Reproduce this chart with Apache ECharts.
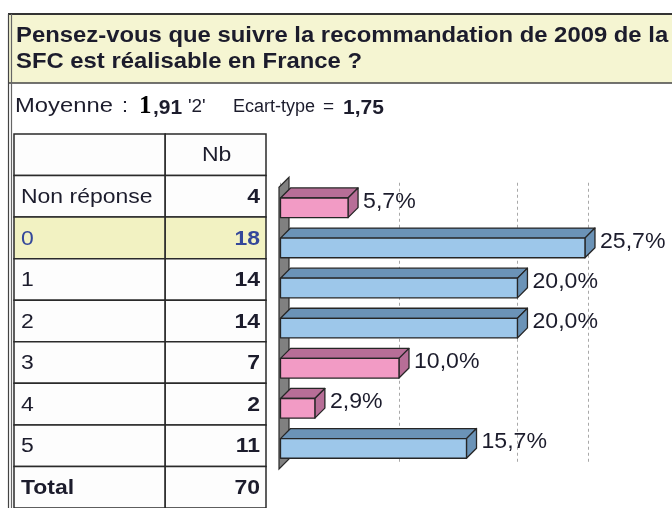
<!DOCTYPE html>
<html>
<head>
<meta charset="utf-8">
<title>Recommandation SFC 2009</title>
<script src="https://cdn.jsdelivr.net/npm/echarts@6/dist/echarts.min.js"></script>
<style>
  html, body { margin: 0; padding: 0; background: #ffffff; }
  #chart { width: 672px; height: 508px; }
</style>
</head>
<body>
<div id="chart"></div>
<script>
// données
const categories = ['Non réponse', '0', '1', '2', '3', '4', '5'];
const counts = [4, 18, 14, 14, 7, 2, 11];
const percents = [5.7, 25.7, 20.0, 20.0, 10.0, 2.9, 15.7];
const total = 70;
const titleLines = ['Pensez-vous que suivre la recommandation de 2009 de la', 'SFC est réalisable en France ?'];
const meanText = '1,91';
const medianText = "'2'";
const stdText = '1,75';
const countHeader = 'Nb';
const totalLabel = 'Total';

// lignes du tableau : en-tête, modalités, total
const tableRows = [['', countHeader]]
  .concat(categories.map((c, i) => [c, counts[i]]))
  .concat([[totalLabel, total]]);

const FONT = '"Liberation Sans", Arial, sans-serif';
const SX = 1.12; // la capture est un peu étirée en largeur
const INK = '#1c1c2c';
const BLUE_TXT = '#34489a';
const maxCount = Math.max(...counts);

const fmtPct = v => v.toFixed(1).replace('.', ',') + '%';

// cellules du tableau (une ligne par donnée)
const renderCell = (params, api) => {
  const i = api.value(1);
  const row = tableRows[i];
  const cs = params.coordSys;
  const c = api.coord([0, i]);
  const h = api.size([0, 1])[1];
  const top = c[1] - h / 2;
  const split = cs.x + cs.width * 0.6;
  const right = cs.x + cs.width;
  const isData = i > 0 && i <= categories.length;
  const hi = isData && row[1] === maxCount;
  const isTotal = i === tableRows.length - 1;
  const fill = hi ? '#f2f2c2' : '#fdfdfd';
  const color = hi ? BLUE_TXT : INK;
  const cellStyle = { fill: fill, stroke: '#2a2a2a', lineWidth: 1.5 };
  const children = [
    { type: 'rect', shape: { x: cs.x, y: top, width: split - cs.x, height: h }, style: cellStyle },
    { type: 'rect', shape: { x: split, y: top, width: right - split, height: h }, style: cellStyle },
    {
      type: 'text', x: cs.x + 7, y: c[1] + 1, scaleX: SX,
      style: {
        text: row[0], fill: color, fontFamily: FONT, fontSize: 20.5,
        fontWeight: isTotal ? 'bold' : 'normal',
        align: 'left', verticalAlign: 'middle', textAlign: 'left', textVerticalAlign: 'middle'
      }
    }
  ];
  if (i === 0) {
    children.push({
      type: 'text', x: (split + right) / 2 + 1, y: c[1] + 1, scaleX: SX,
      style: {
        text: String(row[1]), fill: INK, fontFamily: FONT, fontSize: 20.5,
        align: 'center', verticalAlign: 'middle', textAlign: 'center', textVerticalAlign: 'middle'
      }
    });
  } else {
    children.push({
      type: 'text', x: right - 6, y: c[1] + 1, scaleX: SX,
      style: {
        text: String(row[1]), fill: color, fontFamily: FONT, fontSize: 20.5, fontWeight: 'bold',
        align: 'right', verticalAlign: 'middle', textAlign: 'right', textVerticalAlign: 'middle'
      }
    });
  }
  return { type: 'group', children: children };
};

// mur gris de l'axe (effet 3D)
const renderWall = (params, api) => {
  const cs = params.coordSys;
  const x = cs.x;
  const y0 = cs.y;
  const y1 = cs.y + cs.height;
  return {
    type: 'polygon',
    shape: { points: [[x - 1.5, y0 + 4.5], [x + 8.5, y0 - 5.5], [x + 8.5, y1 - 4.5], [x - 1.5, y1 + 5.5]] },
    style: { fill: '#808080', stroke: '#2a2a2a', lineWidth: 1.2 }
  };
};

// barres en relief
const renderBar = (params, api) => {
  const val = api.value(0);
  const cat = api.value(1);
  const p0 = api.coord([0, cat]);
  const p1 = api.coord([val, cat]);
  const band = api.size([0, 1])[1];
  const h = band * 0.49;
  const d = band * 0.25;
  const ft = p0[1] - (h + d) / 2 + d;
  const x0 = p0[0];
  const x1 = p1[0];
  const blue = val >= 15;
  const front = blue ? '#9dc7ea' : '#f29bc5';
  const dark = blue ? '#6b93b7' : '#b76e97';
  const edge = { stroke: '#262626', lineWidth: 1.3, lineJoin: 'round' };
  return {
    type: 'group',
    children: [
      { type: 'polygon', shape: { points: [[x0, ft], [x0 + d, ft - d], [x1 + d, ft - d], [x1, ft]] }, style: Object.assign({ fill: dark }, edge) },
      { type: 'polygon', shape: { points: [[x1, ft], [x1 + d, ft - d], [x1 + d, ft + h - d], [x1, ft + h]] }, style: Object.assign({ fill: dark }, edge) },
      { type: 'rect', shape: { x: x0, y: ft, width: x1 - x0, height: h }, style: Object.assign({ fill: front }, edge) },
      {
        type: 'text', x: x1 + d + 5, y: p0[1] - 1, scaleX: 1.05,
        style: {
          text: fmtPct(val), fill: INK, fontFamily: FONT, fontSize: 22,
          align: 'left', verticalAlign: 'middle', textAlign: 'left', textVerticalAlign: 'middle'
        }
      }
    ]
  };
};

const txt = (text, x, y, size, weight, opts) => Object.assign({
  type: 'text', x: x, y: y, scaleX: SX, z: 10,
  style: {
    text: text, fill: INK, fontFamily: FONT, fontSize: size, fontWeight: weight,
    align: 'left', verticalAlign: 'middle', textAlign: 'left', textVerticalAlign: 'middle'
  }
}, opts || {});

const chart = echarts.init(document.getElementById('chart'));

const option = {
  animation: false,
  backgroundColor: '#ffffff',
  grid: [
    { left: 280.5, top: 182.75, width: 308, height: 280.7 },
    { left: 14, top: 134, width: 252, height: 378 }
  ],
  xAxis: [
    {
      gridIndex: 0, type: 'value', min: 0, max: 26, interval: 10,
      axisLine: { show: false }, axisTick: { show: false }, axisLabel: { show: false },
      splitLine: { show: true, lineStyle: { color: '#a8a8a8', type: [3, 3], width: 1 } }
    },
    { gridIndex: 1, type: 'value', min: 0, max: 1, show: false }
  ],
  yAxis: [
    { gridIndex: 0, type: 'category', data: categories, inverse: true, show: false },
    { gridIndex: 1, type: 'category', data: tableRows.map((r, i) => String(i)), inverse: true, show: false }
  ],
  series: [
    {
      type: 'custom', xAxisIndex: 0, yAxisIndex: 0, z: 2,
      data: [[0, 0]], renderItem: renderWall, silent: true
    },
    {
      type: 'custom', xAxisIndex: 0, yAxisIndex: 0, z: 3,
      data: percents.map((v, i) => [v, i]), encode: { x: 0, y: 1 },
      renderItem: renderBar
    },
    {
      type: 'custom', xAxisIndex: 1, yAxisIndex: 1, z: 2,
      data: tableRows.map((r, i) => [0, i]), encode: { x: 0, y: 1 },
      renderItem: renderCell
    }
  ],
  graphic: [
    // bandeau du titre
    { type: 'rect', z: 1, shape: { x: 8, y: 14, width: 664, height: 69 }, style: { fill: '#f5f5d2' } },
    { type: 'line', z: 2, shape: { x1: 8, y1: 14, x2: 672, y2: 14 }, style: { stroke: '#333', lineWidth: 2 } },
    { type: 'line', z: 2, shape: { x1: 8, y1: 83, x2: 672, y2: 83 }, style: { stroke: '#444', lineWidth: 1.5 } },
    // double bord gauche
    { type: 'line', z: 2, shape: { x1: 8.5, y1: 14, x2: 8.5, y2: 508 }, style: { stroke: '#444', lineWidth: 1.2 } },
    { type: 'line', z: 2, shape: { x1: 11.5, y1: 14, x2: 11.5, y2: 508 }, style: { stroke: '#666', lineWidth: 1.2 } },
    txt(titleLines[0], 16, 35.5, 22.5, 'bold', { scaleX: 1.06 }),
    txt(titleLines[1], 16, 62, 22.5, 'bold', { scaleX: 1.06 }),
    // ligne des statistiques
    txt('Moyenne', 15, 107, 19.5, 'normal', { scaleX: 1.22 }),
    txt(':', 122, 107, 19.5, 'normal', { scaleX: 1.1 }),
    {
      type: 'text', x: 139, y: 107, z: 10,
      style: {
        text: meanText.charAt(0), fill: '#000', fontFamily: '"Liberation Serif", "Times New Roman", serif',
        fontSize: 25, fontWeight: 'bold',
        align: 'left', verticalAlign: 'middle', textAlign: 'left', textVerticalAlign: 'middle'
      }
    },
    txt(meanText.slice(1), 153, 108, 20, 'bold', { scaleX: 1.05 }),
    txt(medianText, 188, 107, 18, 'normal', { scaleX: 1.05 }),
    txt('Ecart-type', 233, 107, 18, 'normal', { scaleX: 1.0 }),
    txt('=', 323, 107, 19, 'normal', { scaleX: 1.0 }),
    txt(stdText, 343, 108, 20, 'bold', { scaleX: 1.05 })
  ]
};

chart.setOption(option);
window.addEventListener('resize', () => chart.resize());
</script>
</body>
</html>
